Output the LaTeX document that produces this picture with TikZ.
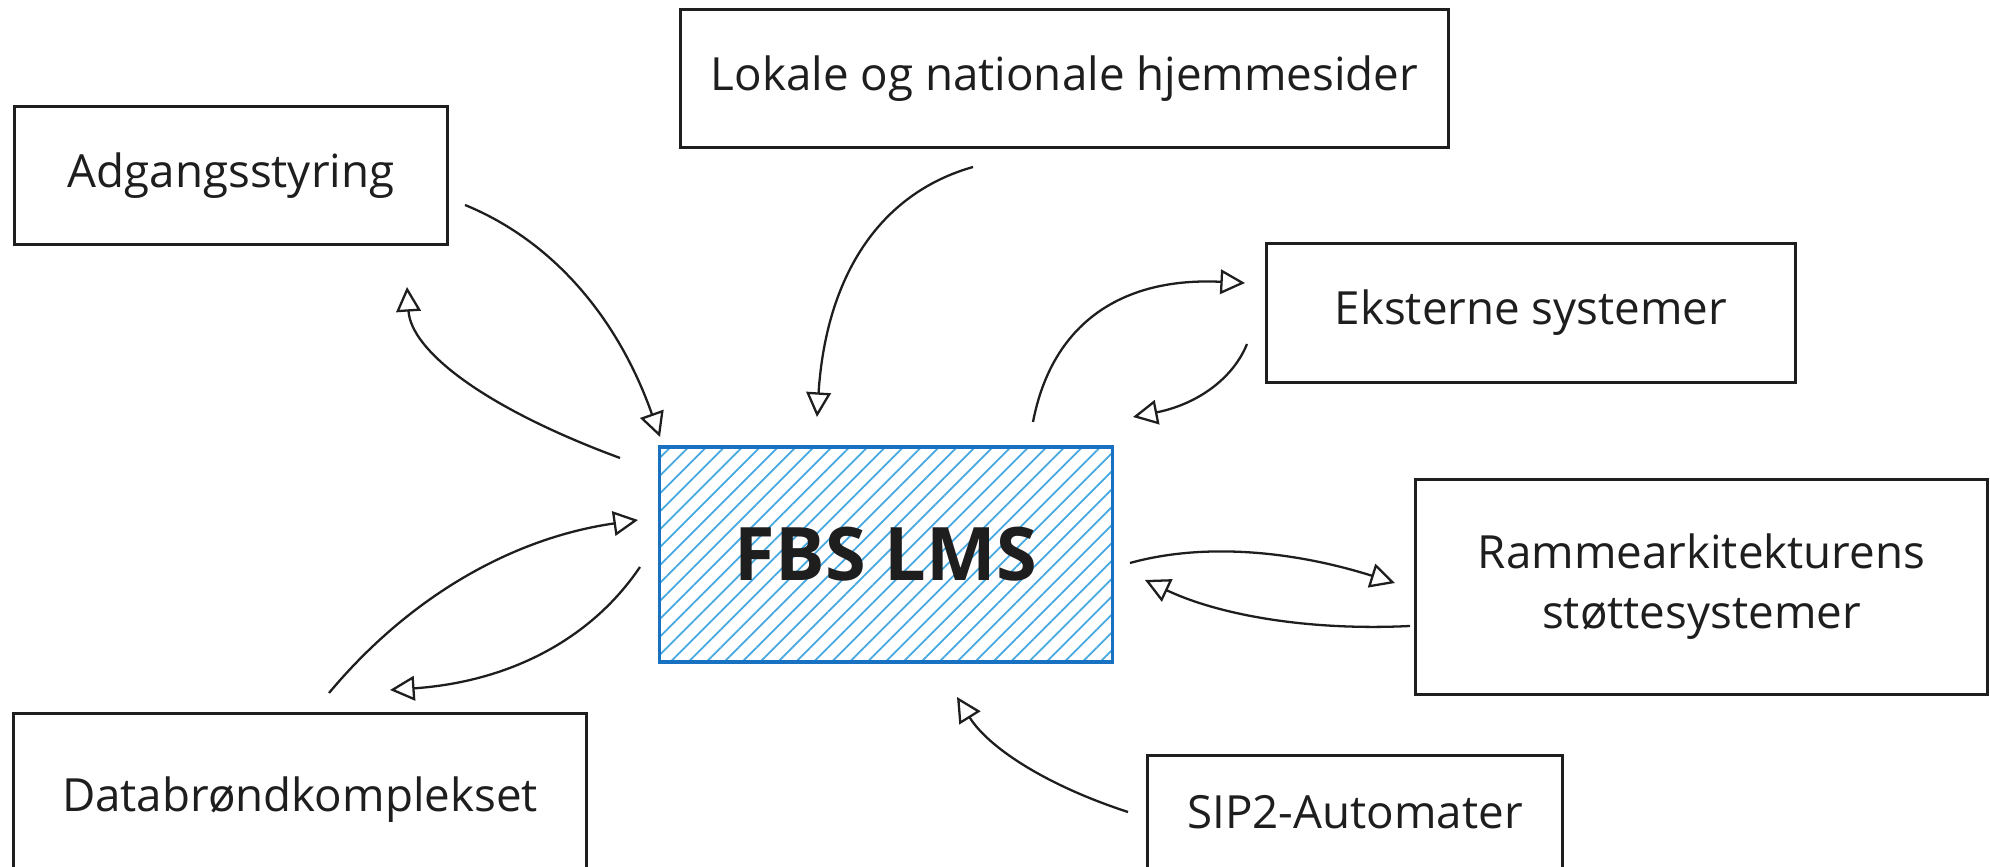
\documentclass[tikz,border=0pt]{standalone}
\usepackage{fontspec}
\setmainfont{Open Sans}
\usetikzlibrary{arrows.meta,patterns.meta}
\definecolor{ink}{RGB}{30,30,30}
\definecolor{lmsblue}{RGB}{25,113,194}
\definecolor{hatchblue}{RGB}{70,168,225}

\begin{document}
\begin{tikzpicture}[x=0.01cm,y=0.01cm,
	box/.style={draw=ink, line width=0.85pt, inner sep=0pt, align=center, text=ink, font=\fontsize{13}{17}\selectfont},
	lms/.style={draw=lmsblue, line width=0.9pt, pattern={Lines[angle=45,distance=3.6pt,line width=0.5pt]}, pattern color=hatchblue, text=ink, font=\fontsize{21}{25}\selectfont\bfseries},
	arr/.style={draw=ink, line width=0.65pt, -{Triangle[open,length=7pt,width=7pt]}}]

	% Page
	\clip (0,0) rectangle (1990,867);
	\fill[white] (0,0) rectangle (1990,867);

	% Systems
	\node[box, minimum width=4.32cm, minimum height=1.37cm] (adg) at (231,691.5) {Adgangsstyring};
	\node[box, minimum width=7.67cm, minimum height=1.37cm] (lok) at (1064.5,788.5) {Lokale og nationale hjemmesider};
	\node[box, minimum width=5.28cm, minimum height=1.38cm] (eks) at (1531,554) {Eksterne systemer};
	\node[box, minimum width=5.71cm, minimum height=2.14cm] (ram) at (1701.5,280) {Rammearkitekturens\\støttesystemer};
	\node[box, minimum width=5.72cm, minimum height=1.72cm] (dat) at (300,67) {Databrøndkomplekset};
	\node[box, minimum width=4.14cm, minimum height=1.12cm] (sip) at (1355,55) {SIP2-Automater};

	% LMS in the middle
	\node[lms, minimum width=4.52cm, minimum height=2.15cm] (fbs) at (886,312.5) {FBS LMS};

	% Arrow ends
	\coordinate (adg-out) at (465,662);
	\coordinate (adg-in) at (407,580);
	\coordinate (lok-out) at (973,700);
	\coordinate (eks-in) at (1245,584);
	\coordinate (eks-out) at (1247,523);
	\coordinate (ram-in) at (1395,284);
	\coordinate (ram-out) at (1410,241);
	\coordinate (dat-out) at (329,174);
	\coordinate (dat-in) at (390,177);
	\coordinate (sip-out) at (1128,55);
	\coordinate (fbs-nw) at (660,430);
	\coordinate (fbs-w1) at (620,409);
	\coordinate (fbs-n) at (817,450);
	\coordinate (fbs-ne1) at (1033,445);
	\coordinate (fbs-ne2) at (1133,450);
	\coordinate (fbs-e1) at (1130,304);
	\coordinate (fbs-e2) at (1145,287);
	\coordinate (fbs-w2) at (638,347);
	\coordinate (fbs-w3) at (640,300);
	\coordinate (fbs-s) at (957,170);

	% Connectors
	\draw[arr] (adg-out) .. controls (553,626) and (618,549) .. (fbs-nw);
	\draw[arr] (fbs-w1) .. controls (482,460) and (411,517) .. (adg-in);
	\draw[arr] (lok-out) .. controls (878,673) and (826,589) .. (fbs-n);
	\draw[arr] (fbs-ne1) .. controls (1052,544) and (1122,590) .. (eks-in);
	\draw[arr] (eks-out) .. controls (1232,486) and (1194,462) .. (fbs-ne2);
	\draw[arr] (fbs-e1) .. controls (1202,324) and (1290,317) .. (ram-in);
	\draw[arr] (ram-out) .. controls (1308,236) and (1219,252) .. (fbs-e2);
	\draw[arr] (dat-out) .. controls (410,271) and (513,329) .. (fbs-w2);
	\draw[arr] (fbs-w3) .. controls (590,226) and (507,185) .. (dat-in);
	\draw[arr] (sip-out) .. controls (1045,82) and (988,120) .. (fbs-s);

\end{tikzpicture}
\end{document}
